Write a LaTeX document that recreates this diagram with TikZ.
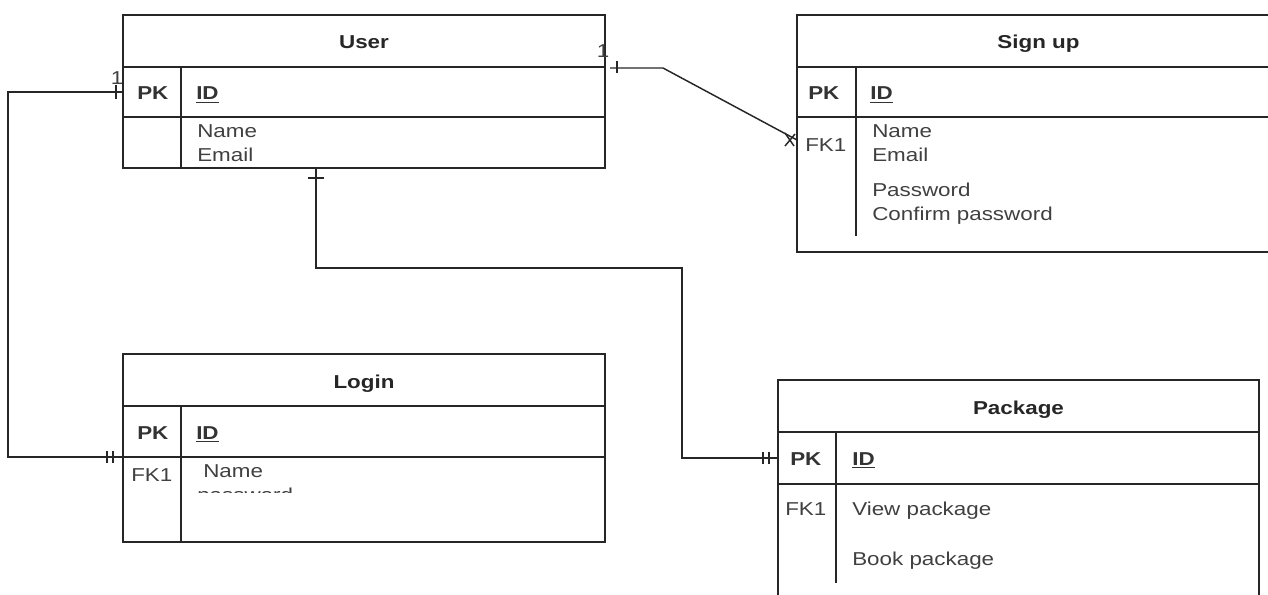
\documentclass[tikz,border=0pt]{standalone}
\usepackage{fontspec}
\setmainfont{Liberation Sans}[FakeStretch=1.2]
\usetikzlibrary{positioning}

\begin{document}
\begin{tikzpicture}[x=0.75pt,y=-0.75pt,
    row/.style={draw=black!85, line width=1pt, inner sep=0pt, outer sep=0pt, anchor=north west},
    ttl/.style={font=\bfseries\fontsize{14}{17}\selectfont, text=black!85, anchor=base, inner sep=0pt},
    key/.style={font=\bfseries\fontsize{14}{17}\selectfont, text=black!80, anchor=base west, inner sep=0pt},
    fld/.style={font=\fontsize{14}{17}\selectfont, text=black!75, anchor=base west, inner sep=0pt},
    link/.style={draw=black!85, line width=1.1pt}]

\clip (0,0) rectangle (1268,595);

\node [row, minimum width=482*0.75pt, minimum height=52*0.75pt] (userhead) at (123,15) {};
\node [row, minimum width=482*0.75pt, minimum height=50*0.75pt] (userpk) at (userhead.south west) {};
\node [row, minimum width=482*0.75pt, minimum height=51*0.75pt] (userbody) at (userpk.south west) {};

\node [row, minimum width=483*0.75pt, minimum height=52*0.75pt] (signhead) at (797,15) {};
\node [row, minimum width=483*0.75pt, minimum height=50*0.75pt] (signpk) at (signhead.south west) {};
\node [row, minimum width=483*0.75pt, minimum height=135*0.75pt] (signbody) at (signpk.south west) {};

\node [row, minimum width=482*0.75pt, minimum height=52*0.75pt] (loginhead) at (123,354) {};
\node [row, minimum width=482*0.75pt, minimum height=51*0.75pt] (loginpk) at (loginhead.south west) {};
\node [row, minimum width=482*0.75pt, minimum height=85*0.75pt] (loginbody) at (loginpk.south west) {};

\node [row, minimum width=481*0.75pt, minimum height=52*0.75pt] (packhead) at (778,380) {};
\node [row, minimum width=481*0.75pt, minimum height=52*0.75pt] (packpk) at (packhead.south west) {};
\node [row, minimum width=481*0.75pt, minimum height=121*0.75pt] (packbody) at (packpk.south west) {};

\draw [link] ([shift={(58,0)}]userpk.north west) -- ([shift={(58,0)}]userbody.south west);
\draw [link] ([shift={(59,0)}]signpk.north west) -- ([shift={(59,-16)}]signbody.south west);
\draw [link] ([shift={(58,0)}]loginpk.north west) -- ([shift={(58,0)}]loginbody.south west);
\draw [link] ([shift={(58,0)}]packpk.north west) -- ([shift={(58,-22)}]packbody.south west);

\node [ttl] (usertitle)  at ([shift={(0,8)}]userhead.center)  {User};
\node [ttl] (signtitle)  at ([shift={(0,8)}]signhead.center)  {Sign up};
\node [ttl] (logintitle) at ([shift={(0,8)}]loginhead.center) {Login};
\node [ttl] (packtitle)  at ([shift={(0,8)}]packhead.center)  {Package};

\node [key] (userpkkey)  at (137,100) {PK};
\node [key] (userid)     at (196,100) {\underline{ID}};
\node [key] (signpkkey)  at (808,100) {PK};
\node [key] (signid)     at (870,100) {\underline{ID}};
\node [key] (loginpkkey) at (137,439) {PK};
\node [key] (loginid)    at (196,439) {\underline{ID}};
\node [key] (packpkkey)  at (790,465) {PK};
\node [key] (packid)     at (852,465) {\underline{ID}};

\node [fld] (signfk1)  at (805,152) {FK1};
\node [fld] (loginfk1) at (131,481) {FK1};
\node [fld] (packfk1)  at (785,515) {FK1};

\foreach \t/\y in {Name/138, Email/162}
    \node [fld] (userf\y) at (197,\y) {\t};

\foreach \t/\y in {Name/138, Email/162, Password/197, Confirm password/221}
    \node [fld] (signf\y) at (872,\y) {\t};

\foreach \t/\y in {View package/515, Book package/565}
    \node [fld] (packf\y) at (852,\y) {\t};

\node [fld] (loginname) at (203,477) {Name};
\begin{scope}
    \clip (190,485) rectangle (330,492.5);
    \node [fld] (loginpass) at (197,501) {password};
\end{scope}

\coordinate (signfk) at ([shift={(0,23)}]signbody.north west);

\draw [link] (userpk.west) -- ++(-115,0) |- (loginpk.south west);
\draw [link] ([shift={(-7,-7)}]userpk.west) -- ([shift={(-7,7)}]userpk.west);
\draw [link] ([shift={(-16,-6)}]loginpk.south west) -- ([shift={(-16,6)}]loginpk.south west);
\draw [link] ([shift={(-10,-6)}]loginpk.south west) -- ([shift={(-10,6)}]loginpk.south west);
\node [fld, anchor=base] (one1) at (117,85) {1};

\draw [link] ([shift={(5,1)}]userpk.north east) -- ++(53,0) -- (signfk);
\draw [link] ([shift={(12,-6)}]userpk.north east) -- ([shift={(12,6)}]userpk.north east);
\draw [link] ([shift={(-12,-7)}]signfk) -- ([shift={(-3,6)}]signfk);
\draw [link] ([shift={(-12,6)}]signfk) -- ([shift={(-2,-6)}]signfk);
\node [fld, anchor=base] (one2) at (603,58) {1};

\draw [link] ([shift={(-48,0)}]userbody.south) -- ++(0,100) -| ([shift={(-96,0)}]packpk.west) -- (packpk.west);
\draw [link] ([shift={(-56,10)}]userbody.south) -- ([shift={(-40,10)}]userbody.south);
\draw [link] ([shift={(-15,-6)}]packpk.west) -- ([shift={(-15,6)}]packpk.west);
\draw [link] ([shift={(-9,-6)}]packpk.west) -- ([shift={(-9,6)}]packpk.west);

\end{tikzpicture}
\end{document}
